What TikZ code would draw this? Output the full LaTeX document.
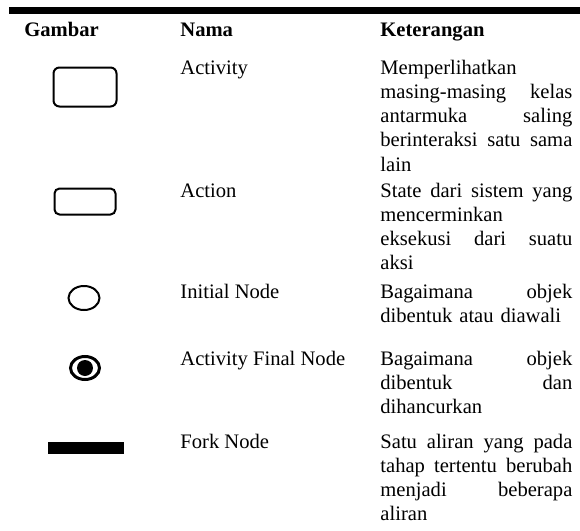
\documentclass[tikz,border=0pt]{standalone}
\usepackage{fontspec}
\setmainfont{Liberation Serif}
\newlength{\lebar}
\setlength{\lebar}{96pt}
% une ligne justifiee
\newcommand{\rata}[1]{\makebox[\lebar][s]{\spaceskip=0pt\xspaceskip=0pt #1}}
\tikzset{
	teks/.style={anchor=base west, inner sep=0pt, font=\fontsize{10.3}{12.15}\selectfont},
	kepala/.style={teks, font=\fontsize{10.3}{12.15}\selectfont\bfseries},
	ket/.style={teks, text width=\lebar, align=left},
	simbol/.style={line width=1pt},
}
\begin{document}
\begin{tikzpicture}[x=0.5pt,y=-0.5pt]
	\useasboundingbox (0,0) rectangle (580,531);
	% la regle
	\fill [black] (9,7) rectangle (580,13.5);
	% les en-tetes
	\node[kepala] (hgambar) at (24,36) {Gambar};
	\node[kepala] (hnama) at (180,36) {Nama};
	\node[kepala] (hket) at (380,36) {Keterangan};
	% activity
	\draw [simbol, rounded corners=3pt] (53.5,67.5) rectangle (116.5,106.5);
	\node[teks] (nactivity) at (180,74) {Activity};
	\node[ket] (kactivity) at (380,74) {Memperlihatkan\\ \rata{masing-masing kelas}\\ \rata{antarmuka saling}\\ \rata{berinteraksi satu sama}\\ lain};
	% action
	\draw [simbol, rounded corners=2.5pt] (54.5,188.5) rectangle (115.5,214.5);
	\node[teks] (naction) at (180,197) {Action};
	\node[ket] (kaction) at (380,197) {\rata{State dari sistem yang}\\ mencerminkan\\ \rata{eksekusi dari suatu}\\ aksi};
	% initial node
	\draw [simbol] (84,298) circle [x radius=15.5, y radius=12];
	\node[teks] (ninitial) at (180,298) {Initial Node};
	\node[ket] (kinitial) at (380,298) {\rata{Bagaimana objek}\\ dibentuk atau diawali};
	% activity final node
	\draw [simbol, line width=1.5pt] (85,368) circle [x radius=14.5, y radius=11.5];
	\fill [black] (85,368) circle (8);
	\node[teks] (nfinal) at (180,365) {Activity Final Node};
	\node[ket] (kfinal) at (380,365) {\rata{Bagaimana objek}\\ \rata{dibentuk dan}\\ dihancurkan};
	% fork node
	\fill [black] (48,442) rectangle (124,454);
	\node[teks] (nfork) at (180,448) {Fork Node};
	\node[ket] (kfork) at (380,448) {\rata{Satu aliran yang pada}\\ \rata{tahap tertentu berubah}\\ \rata{menjadi beberapa}\\ aliran};
\end{tikzpicture}
\end{document}
